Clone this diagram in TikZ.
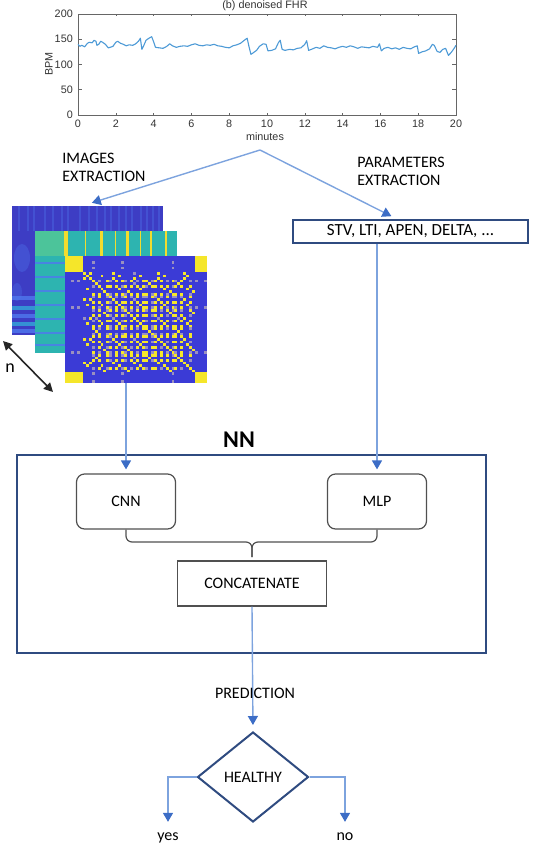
\documentclass[tikz,border=0pt]{standalone}
\usepackage{fontspec}
\setmainfont{Carlito}
\newfontfamily\plotfont{Liberation Sans}
\usepackage{xcolor}
\usepackage{tikz}
\usetikzlibrary{calc,arrows.meta,shapes.geometric}

\definecolor{lineblue}{HTML}{7DA3DE}
\definecolor{tipblue}{HTML}{3C6DC6}
\definecolor{navy}{HTML}{2F4B80}
\definecolor{boxgray}{HTML}{505050}
\definecolor{fhrblue}{HTML}{4D9AD6}
\definecolor{pblue}{HTML}{3D3DC4}
\definecolor{plight}{HTML}{4F78EE}
\definecolor{pcyan}{HTML}{33A6D8}
\definecolor{pteal}{HTML}{2DB4B0}
\definecolor{pgreen}{HTML}{4CC49A}
\definecolor{pyellow}{HTML}{F2DC2E}
\definecolor{rpblue}{HTML}{3B3BD6}
\definecolor{rpyellow}{HTML}{F5E62A}
\definecolor{rpmid}{HTML}{9A90C0}

% values of the recurrence picture
\def\rpvals{{5,5.05,5.1,5,5.1,5.05,1,3,1.2,5.9,2,6.2,3.1,8,6.0,6.4,1,6.1,3,5.9,6.3,8.1,6.0,1.3,6.2,3.2,6.1,5.95,2.1,6.35,6.1,1,6.0,3,6.25,8,5.9,6.15,2,6.05,1.1,3.1,6.3,8.2,5.1,5,5.05,5.1}}

\begin{document}
\begin{tikzpicture}[x=0.5pt, y=-0.5pt,
  flow/.style={draw=lineblue, line width=0.7pt, shorten >=2pt, -{Triangle[width=5pt,length=4.5pt,color=tipblue]}},
  joinline/.style={draw=boxgray, line width=0.6pt, rounded corners=3pt},
  txt/.style={font=\fontsize{8}{9}\selectfont, inner sep=0pt, align=left},
  netbox/.style={draw=boxgray, line width=0.6pt, rounded corners=4pt, minimum width=49.5pt, minimum height=27.5pt, font=\fontsize{8}{9}\selectfont},
  catbox/.style={draw=boxgray, line width=0.6pt, minimum width=74.5pt, minimum height=22.5pt, font=\fontsize{8}{9}\selectfont},
  nnframe/.style={draw=navy, line width=1.1pt, minimum width=234.5pt, minimum height=99pt},
  parbox/.style={draw=navy, line width=1pt, minimum width=117.5pt, minimum height=11.5pt, inner sep=0pt, font=\fontsize{8.5}{9}\selectfont},
  decision/.style={diamond, draw=navy, line width=1pt, aspect=1.23, minimum width=55.5pt, minimum height=45pt, inner sep=0pt, font=\fontsize{8}{9}\selectfont},
  ticklabel/.style={font=\plotfont\fontsize{5.4}{6}\selectfont, inner sep=1pt, text=black!80}]
  \useasboundingbox (0,0) rectangle (533,847);

  % FHR plot
  \node[ticklabel] (fhrtitle) at (265,6) {(b) denoised FHR};
  \node[ticklabel] (xlabel) at (265,137) {minutes};
  \node[ticklabel, rotate=90] (ylabel) at (49,64) {BPM};
  \begin{scope}[xshift=39pt, yshift=-57.5pt, x=9.45pt, y=0.2525pt]
    \draw[black!60, line width=0.4pt] (0,0) rectangle (20,200);
    \foreach \m in {0,2,...,20} {
      \draw[black!60, line width=0.3pt] (\m,0) -- (\m,4) (\m,200) -- (\m,196);
      \node[ticklabel, anchor=north] (xt\m) at (\m,-5) {\m};
    }
    \foreach \b in {0,50,...,200} {
      \draw[black!60, line width=0.3pt] (0,\b) -- (0.2,\b) (20,\b) -- (19.8,\b);
      \node[ticklabel, anchor=east] (yt\b) at (-0.15,\b) {\b};
    }
    \draw[fhrblue, line width=0.55pt, line join=round] plot coordinates {
      (0,140) (0.1,136) (0.2,138) (0.35,135) (0.5,142) (0.6,144) (0.75,143) (0.85,148) (0.95,146)
      (1.0,138) (1.1,140) (1.2,146) (1.3,144) (1.45,140) (1.6,133) (1.7,134) (1.85,136) (2.0,144)
      (2.1,146) (2.25,142) (2.4,140) (2.55,137) (2.7,139) (2.9,138) (3.05,141) (3.2,146) (3.3,152)
      (3.38,130) (3.45,135) (3.6,148) (3.75,152) (3.9,155) (4.0,145) (4.1,134) (4.3,133) (4.5,132)
      (4.7,136) (4.85,141) (5.0,137) (5.2,134) (5.4,136) (5.6,137) (5.8,136) (6.0,139) (6.2,141)
      (6.4,138) (6.6,137) (6.8,139) (7.0,138) (7.2,140) (7.4,137) (7.6,136) (7.8,134) (8.0,133)
      (8.2,137) (8.4,139) (8.6,142) (8.8,148) (8.95,152) (9.05,135) (9.15,120) (9.3,124) (9.45,128)
      (9.6,136) (9.8,141) (9.95,140) (10.05,127) (10.25,128) (10.45,131) (10.6,143) (10.7,148)
      (10.8,130) (10.95,128) (11.2,130) (11.4,129) (11.6,132) (11.8,133) (12.0,140) (12.1,147)
      (12.2,128) (12.35,130) (12.6,134) (12.8,132) (13.0,137) (13.2,134) (13.4,133) (13.6,131)
      (13.8,134) (14.0,136) (14.2,134) (14.4,137) (14.6,135) (14.8,132) (15.0,135) (15.2,134)
      (15.4,133) (15.6,136) (15.85,134) (15.95,141) (16.05,127) (16.2,132) (16.4,134) (16.6,131)
      (16.8,133) (17.0,130) (17.2,134) (17.4,132) (17.6,131) (17.8,135) (17.95,137) (18.02,122)
      (18.2,125) (18.4,127) (18.6,131) (18.75,140) (18.85,138) (19.0,126) (19.15,124) (19.3,130)
      (19.45,132) (19.6,118) (19.75,124) (19.9,132) (20.0,138)};
  \end{scope}

  % Extraction labels
  \node[txt, anchor=north west] (imglabel) at (62,153) {IMAGES\\EXTRACTION};
  \node[txt, anchor=north west] (parlabel) at (357,157) {PARAMETERS\\EXTRACTION};

  % Image 1 (spectrogram)
  \fill[pblue] (12,206) rectangle (163,335);
  \foreach \sx in {18,27,33,44,52,61,67,79,88,96,104,110,118,125,131,140,146,152,158}
    \fill[plight, opacity=0.35] (\sx,206) rectangle ++(1.5,25);
  \fill[plight, opacity=0.35] (22,258) ellipse (8 and 14);
  \fill[plight, opacity=0.3] (17,292) ellipse (5 and 9);
  \foreach \by/\bc in {296/plight, 306/pcyan, 314/plight, 322/pcyan, 329/plight}
    \fill[\bc, opacity=0.8] (12,\by) rectangle (35,\by+4);

  % Image 2
  \fill[pteal] (35,231) rectangle (177,353);
  \fill[pgreen] (35,231) rectangle (65,256);
  \foreach \sx/\sw in {64/4, 100/3, 126/3, 150/2, 85/1, 115/1, 140/1, 165/1.5}
    \fill[pyellow] (\sx,231) rectangle ++(\sw,25);
  \foreach \ly in {262,276,290,304,318,332,344}
    \fill[plight!80!pteal] (35,\ly) rectangle (65,\ly+1.5);

  % Image 3 (recurrence plot)
  \foreach \i in {0,...,47} {
    \foreach \j in {0,...,47} {
      \pgfmathsetmacro\rpd{abs(\rpvals[\i]-\rpvals[\j])}
      \pgfmathtruncatemacro\rplvl{\rpd<0.25 ? 0 : (\rpd<0.8 ? 1 : 2)}
      \ifcase\rplvl \def\rpcol{rpyellow}\or \def\rpcol{rpmid}\or \def\rpcol{rpblue}\fi
      \fill[\rpcol] ({65+\j*142/48},{256+\i*127/48}) rectangle ++(3.05,2.75);
    }
  }

  % Depth arrow
  \coordinate (nfrom) at (3,341);
  \coordinate (nto) at (53,392);
  \draw[black!85, line width=0.8pt, {Triangle[width=4.5pt,length=4.5pt]}-{Triangle[width=4.5pt,length=4.5pt]}] (nfrom) -- (nto);
  \node[font=\fontsize{9}{10}\selectfont] (nlabel) at (10,368) {n};

  % Parameters
  \node[parbox] (params) at (410.5,231.5) {STV, LTI, APEN, DELTA, ...};

  % Network
  \node[font=\bfseries\fontsize{12}{12}\selectfont] (nntitle) at (239,440) {NN};
  \node[nnframe] (nn) at (251.5,554) {};
  \node[netbox] (cnn) at (126,501.5) {CNN};
  \node[netbox] (mlp) at (377,501.5) {MLP};
  \node[catbox] (cat) at (252,583.5) {CONCATENATE};
  \coordinate (joint) at (252,542);
  \coordinate (stem) at (252,557);
  \draw[joinline] (cnn.south) |- (joint) -- (stem);
  \draw[joinline] (mlp.south) |- (joint) -- (stem);

  % Decision
  \node[decision] (health) at (253,777) {HEALTHY};
  \node[txt, anchor=base] (yes) at (168,840) {yes};
  \node[txt, anchor=base] (no) at (345,840) {no};

  % Connectors
  \coordinate (split) at (260,150);
  \coordinate (img1top) at (88,204);
  \coordinate (partop) at (395,218);
  \coordinate (img3bot) at (126,383);
  \draw[flow] (split) -- (img1top);
  \draw[flow] (split) -- (partop);
  \draw[flow] (img3bot) -- (cnn.north);
  \draw[flow] (mlp.north |- params.south) -- (mlp.north);
  \draw[flow, shorten >=3pt] (cat.south) -- (health.north);
  \node[txt] (pred) at (255,693) {PREDICTION};
  \draw[flow, shorten >=5pt] (health.west) -| (yes.north);
  \draw[flow, shorten >=5pt] (health.east) -| (no.north);
\end{tikzpicture}
\end{document}
